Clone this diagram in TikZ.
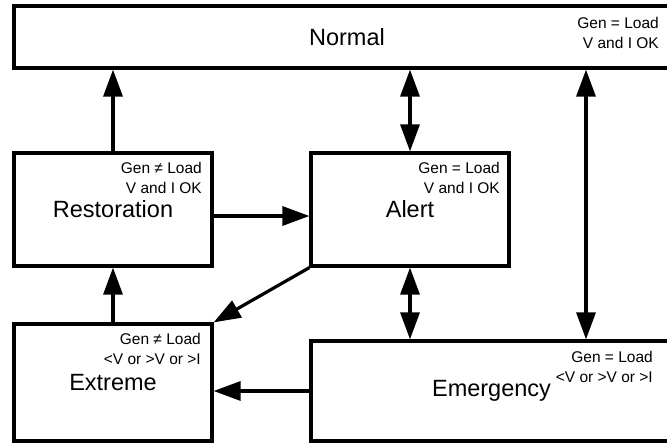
\documentclass[tikz,border=0pt]{standalone}
\usepackage{fontspec}
\setmainfont{Liberation Sans}
\usetikzlibrary{arrows.meta}
\tikzset{
  statebox/.style={draw, line width=3.2pt, rectangle, inner sep=0pt, font=\fontsize{23.5}{28}\selectfont},
  cond/.style={anchor=base east, inner sep=0pt, font=\fontsize{15.5}{20}\selectfont},
  arr/.style={line width=3.2pt, -{Triangle[length=27pt,width=19pt]}},
  darr/.style={line width=3.2pt, {Triangle[length=27pt,width=19pt]}-{Triangle[length=27pt,width=19pt]}}
}
\begin{document}
\begin{tikzpicture}[x=1pt,y=-1pt]
\useasboundingbox (0,0) rectangle (667,442);
\clip (0,0) rectangle (667,442);
\node[statebox, minimum width=666pt, minimum height=62pt] (normal) at (347,37) {Normal};
\node[statebox, minimum width=198pt, minimum height=113pt] (rest) at (113,209.5) {Restoration};
\node[statebox, minimum width=198pt, minimum height=113pt] (alert) at (410,209.5) {Alert};
\node[statebox, minimum width=198pt, minimum height=117pt] (extreme) at (113,382.5) {Extreme};
\node[statebox, minimum width=361pt, minimum height=100pt] (emerg) at (491.5,391) {Emergency};

\node[cond] (n1) at (659,28.5) {Gen = Load};
\node[cond] (n2) at (659,48.5) {V and I OK};
\node[cond] (r1) at (202,173.5) {Gen ≠ Load};
\node[cond] (r2) at (202,193.5) {V and I OK};
\node[cond] (a1) at (500,173.5) {Gen = Load};
\node[cond] (a2) at (500,193.5) {V and I OK};
\node[cond] (x1) at (201,344.5) {Gen ≠ Load};
\node[cond] (x2) at (201,364.5) {<V or >V or >I};
\node[cond] (e1) at (653,362.5) {Gen = Load};
\node[cond] (e2) at (653,382.5) {<V or >V or >I};

\coordinate (emx) at (586,0);
\coordinate (ray) at (0,216);

\draw[arr] (rest.north) -- (rest.north |- normal.south);
\draw[darr] (alert.north |- normal.south) -- (alert.north);
\draw[darr] (normal.south -| emx) -- (emerg.north -| emx);
\draw[arr] (rest.east |- ray) -- (alert.west |- ray);
\draw[darr] (alert.south) -- (alert.south |- emerg.north);
\draw[arr] (alert.south west) -- (extreme.north east);
\draw[arr] (extreme.north) -- (rest.south);
\draw[arr] (emerg.west) -- (extreme.east |- emerg.west);
\end{tikzpicture}
\end{document}
